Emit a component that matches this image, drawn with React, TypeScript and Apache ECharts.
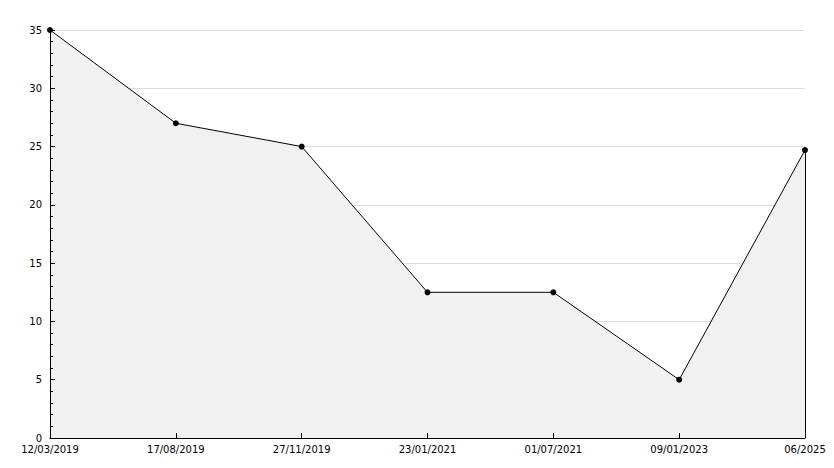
import React, { useEffect, useRef } from "react";
import * as echarts from "echarts";

const categories = ["12/03/2019", "17/08/2019", "27/11/2019", "23/01/2021", "01/07/2021", "09/01/2023", "06/2025"];
const values = [35, 27, 25, 12.5, 12.5, 5, 24.7];
const yTicks = { min: 0, max: 35, interval: 5 };

export default function App() {
  const ref = useRef<HTMLDivElement>(null);
  useEffect(() => {
    if (!ref.current) return;
    const chart = echarts.init(ref.current, undefined, { renderer: "svg" });
    const font = { fontFamily: "DejaVu Sans", fontSize: 10, color: "#000" };
    chart.setOption({
      animation: false,
      backgroundColor: "#fff",
      grid: { left: 50, right: 29, top: 30, bottom: 30, containLabel: false },
      xAxis: {
        type: "category",
        data: categories,
        boundaryGap: false,
        z: 10,
        axisLine: { show: true, lineStyle: { color: "#000", width: 1 } },
        axisTick: { show: true, inside: true, length: 5, alignWithLabel: true, lineStyle: { color: "#000" } },
        axisLabel: { ...font, margin: 6, interval: 0 },
        splitLine: { show: false },
      },
      yAxis: [
        {
          type: "value",
          min: yTicks.min,
          max: yTicks.max,
          interval: yTicks.interval,
          z: 0,
          axisLine: { show: false },
          axisTick: { show: false },
          axisLabel: { ...font, margin: 8 },
          splitLine: { show: true, lineStyle: { color: "#dcdcdc", width: 1 } },
        },
        {
          type: "value",
          position: "left",
          min: yTicks.min,
          max: yTicks.max,
          interval: yTicks.interval,
          z: 10,
          axisLine: { show: true, lineStyle: { color: "#000", width: 1 } },
          axisTick: { show: true, inside: true, length: 5, lineStyle: { color: "#000" } },
          minorTick: { show: true, splitNumber: 5, length: 3, lineStyle: { color: "#000" } },
          axisLabel: { show: false },
          splitLine: { show: false },
        },
      ],
      series: [
        {
          type: "line",
          data: values,
          symbol: "circle",
          symbolSize: 6,
          itemStyle: { color: "#000" },
          lineStyle: { color: "#000", width: 1 },
          areaStyle: { color: "#f1f1f1", opacity: 1 },
          z: 3,
          markLine: {
            silent: true,
            symbol: "none",
            label: { show: false },
            lineStyle: { color: "#000", width: 1, type: "solid" },
            data: [
              [
                { coord: [categories[categories.length - 1], 0] },
                { coord: [categories[categories.length - 1], values[values.length - 1]] },
              ],
            ],
          },
        },
      ],
    });
    return () => chart.dispose();
  }, []);
  return <div ref={ref} style={{ position: "fixed", left: 0, top: 0, width: 834, height: 468 }} />;
}
